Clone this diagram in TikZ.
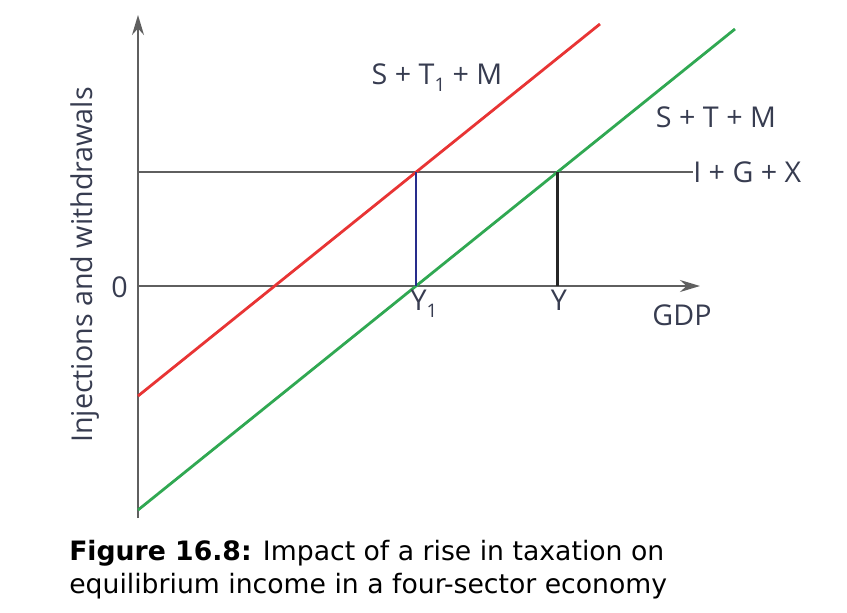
\documentclass[tikz,border=0pt]{standalone}
\usepackage{fontspec}
\setmainfont{Open Sans}
\newfontfamily\capfont{DejaVu Sans}
\usepackage{tikz}
\usetikzlibrary{arrows.meta,positioning}

\definecolor{axisgray}{RGB}{95,95,95}
\definecolor{linered}{RGB}{232,52,52}
\definecolor{linegreen}{RGB}{48,168,82}
\definecolor{lineblue}{RGB}{40,45,140}
\definecolor{labelgray}{RGB}{55,60,80}
\newcommand{\lowsub}[1]{\raisebox{-0.45ex}{\fontsize{14}{16}\selectfont #1}}

\begin{document}
\begin{tikzpicture}[x=0.75pt, y=-0.75pt,
    axis/.style={draw=axisgray, line width=1.2pt, -{Stealth[length=15pt,width=9pt]}},
    level/.style={draw=axisgray, line width=1.2pt},
    curve/.style={line width=2.1pt},
    drop/.style={line width=2.1pt},
    lbl/.style={text=labelgray, font=\fontsize{21.5}{24}\selectfont, inner sep=0pt}]
    \useasboundingbox (0,0) rectangle (847,612);

    % Axes
    \coordinate (origin) at (138,286);
    \coordinate (ybot) at (138,518);
    \coordinate (ytop) at (138,15);
    \coordinate (xend) at (700,286);
    \draw[axis] (ybot) -- (ytop);
    \draw[axis] (origin) -- (xend);

    % Injections
    \coordinate (igxstart) at (138,172);
    \node[lbl, anchor=west] (igx) at (693,172) {I + G + X};
    \draw[level] (igxstart) -- (igx.west);

    % Withdrawals
    \coordinate (redstart) at (138,396);
    \coordinate (redend) at (600,24);
    \coordinate (greenstart) at (138,510);
    \coordinate (greenend) at (735,29);
    \draw[curve, linered] (redstart) -- (redend);
    \draw[curve, linegreen] (greenstart) -- (greenend);

    % Equilibria
    \coordinate (eqone) at (416,172);
    \coordinate (yone) at (416,286);
    \coordinate (eqzero) at (557.5,172);
    \coordinate (yzero) at (557.5,286);
    \draw[drop, lineblue] (eqone) -- (yone);
    \draw[drop, black!85] (eqzero) -- (yzero);

    % Labels
    \node[lbl] (stm1) at (437,78) {S + T\lowsub{1} + M};
    \node[lbl] (stm) at (716,117) {S + T + M};
    \node[lbl, anchor=east] (zero) at (128,287) {0};
    \node[lbl, anchor=north] (y1) at (424,290) {Y\lowsub{1}};
    \node[lbl, anchor=north] (y0) at (559,290) {Y};
    \node[lbl] (gdp) at (682,315) {GDP};
    \node[lbl, rotate=90] (vlabel) at (85,265) {Injections and withdrawals};

    % Caption
    \node[anchor=north west, inner sep=0pt, align=left, font=\capfont\fontsize{20}{24.5}\selectfont] (caption) at (69,540)
        {\textbf{Figure 16.8:} Impact of a rise in taxation on\\equilibrium income in a four-sector economy};
\end{tikzpicture}
\end{document}
